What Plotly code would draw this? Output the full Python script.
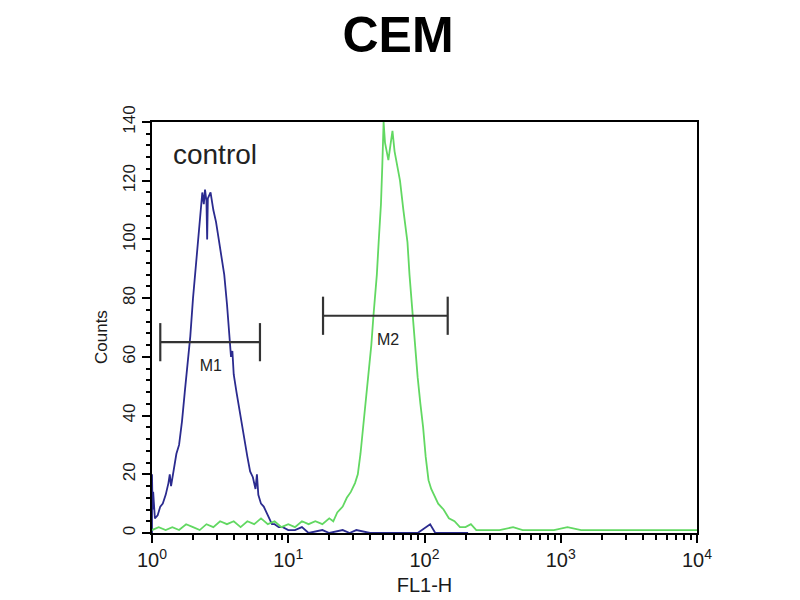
import plotly.graph_objects as go

# ---- data (FL1-H value, counts) ----
blue_fl1h = [1.00, 1.00, 1.01, 1.02, 1.05, 1.10, 1.15, 1.20, 1.26, 1.32, 1.35, 1.38, 1.45, 1.51,
             1.58, 1.66, 1.74, 1.82, 1.91, 2.00, 2.09, 2.19, 2.29, 2.34, 2.40, 2.45, 2.51, 2.54,
             2.57, 2.69, 2.82, 2.95, 3.09, 3.24, 3.39, 3.55, 3.72, 3.80, 3.89, 3.98, 4.17, 4.37,
             4.57, 4.79, 5.01, 5.25, 5.50, 5.75, 5.89, 6.03, 6.31, 6.61, 6.92, 7.24, 7.59, 7.94,
             8.51, 9.12, 10.0, 11.2, 12.6, 14.1, 17.8, 20.0, 25.1, 28.2, 31.6, 39.8, 89.1, 110,
             120, 209]
blue_counts = [0, 20, 8, 14, 5, 6, 9, 10, 13, 17, 20, 16, 22, 27,
               30, 38, 48, 57, 67, 80, 90, 102, 110, 116, 112, 117, 113, 100,
               114, 116, 110, 106, 100, 93, 88, 78, 67, 60, 62, 54, 48, 42,
               37, 31, 26, 21, 19, 15, 20, 13, 10, 9, 7, 5, 3, 3,
               2, 2, 1, 1, 2, 0, 1, 0, 1, 0, 1, 0, 0, 3,
               0, 0]

green_fl1h = [1.00, 1.12, 1.26, 1.41, 1.58, 1.78, 2.00, 2.24, 2.51, 2.82, 3.16, 3.55, 3.98, 4.47,
              5.01, 5.62, 6.31, 7.08, 7.94, 8.91, 10.0, 11.2, 12.6, 14.1, 15.8, 17.8, 20.0, 21.4,
              22.9, 25.1, 26.9, 28.8, 30.9, 32.4, 33.9, 35.5, 37.2, 38.9, 40.7, 42.2, 43.7, 44.7,
              46.2, 47.9, 49.0, 50.1, 51.3, 52.5, 54.3, 56.2, 58.2, 60.3, 63.1, 66.1, 70.0, 75.0,
              77.6, 81.3, 85.1, 89.1, 93.3, 97.7, 102, 107, 112, 117, 126, 138, 151, 166,
              182, 200, 219, 240, 282, 355, 447, 525, 708, 891, 1120, 1410, 2000, 3160,
              5010, 10000]
green_counts = [1, 2, 1, 2, 1, 3, 2, 1, 3, 2, 4, 3, 4, 2,
                4, 3, 5, 3, 4, 2, 3, 2, 4, 3, 4, 3, 5, 4,
                7, 9, 12, 14, 17, 20, 27, 36, 44, 53, 64, 74, 82, 88,
                100, 112, 125, 140, 133, 130, 127, 132, 137, 130, 125, 120, 110, 99,
                88, 75, 63, 53, 44, 36, 26, 18, 15, 13, 10, 8, 5, 4,
                2, 2, 3, 1, 1, 1, 2, 1, 1, 1, 2, 1, 1, 1,
                1, 1]

gate_names = ["M1", "M2"]
gate_start = [1.15, 18.0]
gate_end = [6.2, 148.0]
gate_level = [65, 74]
gate_label_x = [2.7, 54.0]

x_tick_vals = [1, 10, 100, 1000, 10000]
x_tick_text = ["10<sup>0</sup>", "10<sup>1</sup>", "10<sup>2</sup>", "10<sup>3</sup>", "10<sup>4</sup>"]
y_tick_vals = [0, 20, 40, 60, 80, 100, 120, 140]

FONT = "Liberation Sans, Arial, sans-serif"
INK = "#1a1a1a"

fig = go.Figure()

fig.add_trace(go.Scatter(x=blue_fl1h, y=blue_counts, mode="lines",
                         line=dict(color="#2b2b8f", width=1.8), hoverinfo="skip"))
fig.add_trace(go.Scatter(x=green_fl1h, y=green_counts, mode="lines",
                         line=dict(color="#62d862", width=1.8), hoverinfo="skip"))

# gate markers built from the gate arrays
cap = 6.5
gx, gy = [], []
for s, e, lv in zip(gate_start, gate_end, gate_level):
    gx += [s, e, None, s, s, None, e, e, None]
    gy += [lv, lv, None, lv - cap, lv + cap, None, lv - cap, lv + cap, None]
fig.add_trace(go.Scatter(x=gx, y=gy, mode="lines", line=dict(color="#333333", width=2.2),
                         hoverinfo="skip"))
fig.add_trace(go.Scatter(x=gate_label_x, y=[lv - 8.5 for lv in gate_level], mode="text",
                         text=gate_names, textfont=dict(family=FONT, size=16, color="#222"),
                         hoverinfo="skip"))
fig.add_trace(go.Scatter(x=[2.9], y=[128], mode="text", text=["control"],
                         textfont=dict(family=FONT, size=28, color="#222"), hoverinfo="skip"))

# the page body adds an 8px offset, so the figure is 8px smaller and margins compensate
fig.update_layout(
    width=792, height=592,
    margin=dict(l=144, r=103, t=114, b=67, autoexpand=False),
    paper_bgcolor="white", plot_bgcolor="white",
    showlegend=False,
    title=dict(text="<b>CEM</b>", x=0.4924, xanchor="center", y=0.956, yanchor="middle",
               font=dict(family=FONT, size=50, color="black")),
    font=dict(family=FONT, color=INK),
    annotations=[dict(text="Counts", textangle=-90, xref="paper", yref="paper",
                      x=-51 / 545, y=1 - (337 - 122) / 411, xanchor="center", yanchor="middle",
                      showarrow=False, font=dict(family=FONT, size=17, color=INK))],
)
fig.update_xaxes(
    type="log", range=[0, 4], showgrid=False, zeroline=False, automargin=False,
    showline=True, linecolor="black", linewidth=2, mirror=True,
    ticks="outside", ticklen=8, tickwidth=2, tickcolor="black",
    tickvals=x_tick_vals, ticktext=x_tick_text,
    tickfont=dict(family=FONT, size=20, color=INK),
    minor=dict(ticks="outside", ticklen=5, tickwidth=2, tickcolor="black",
               tickvals=[2, 3, 4, 5, 6, 7, 8, 9, 20, 30, 40, 50, 60, 70, 80, 90,
                         200, 300, 400, 500, 600, 700, 800, 900,
                         2000, 3000, 4000, 5000, 6000, 7000, 8000, 9000]),
    title=dict(text="FL1-H", font=dict(family=FONT, size=20, color=INK), standoff=8),
)
fig.update_yaxes(
    range=[0, 140], showgrid=False, zeroline=False, automargin=False,
    showline=True, linecolor="black", linewidth=2, mirror=True,
    ticks="outside", ticklen=8, tickwidth=2, tickcolor="black",
    tickvals=y_tick_vals, tickangle=-90,
    tickfont=dict(family=FONT, size=17, color=INK),
    minor=dict(ticks="outside", ticklen=4, tickwidth=1.5, tickcolor="black", dtick=4),
)

fig.write_html("out.html")
